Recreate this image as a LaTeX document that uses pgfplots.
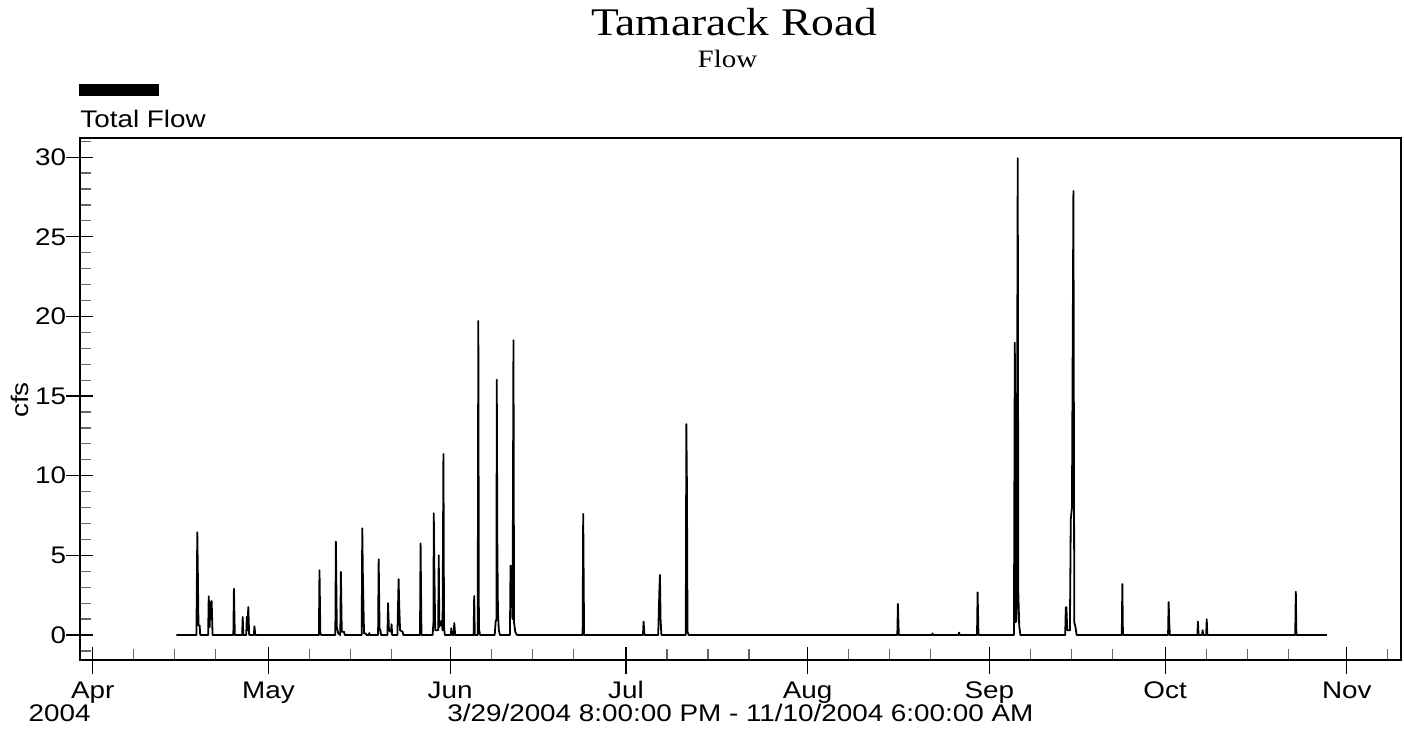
\documentclass[border=0pt]{standalone}
\usepackage{pgfplots}
\pgfplotsset{compat=1.18}
\usepackage{fontspec}
\setmainfont[FakeStretch=1.16]{Liberation Sans}
\newfontfamily\seriffont[FakeStretch=1.16]{Liberation Serif}
\begin{document}
\begin{tikzpicture}
\useasboundingbox (0,0) rectangle (702pt,365pt);
% titles
\node[anchor=base, font=\seriffont\fontsize{19.6}{22}\selectfont, inner sep=0pt] at (367pt,347pt) {Tamarack Road};
\node[anchor=base, font=\seriffont\fontsize{12.5}{14}\selectfont, inner sep=0pt] at (363.75pt,331pt) {Flow};
% legend
\fill[black] (39.65pt,317pt) rectangle (79.65pt,322.85pt);
\node[anchor=base west, font=\fontsize{12}{14}\selectfont, inner sep=0pt] at (40pt,301.2pt) {Total Flow};
% y label
\node[rotate=90, font=\fontsize{12}{14}\selectfont, inner sep=0pt] at (10pt,165pt) {cfs};
% bottom texts
\node[anchor=base east, font=\fontsize{12}{14}\selectfont, inner sep=0pt] at (45.5pt,4.5pt) {2004};
\node[anchor=base, font=\fontsize{12}{14}\selectfont, inner sep=0pt] at (370.2pt,4.5pt) {3/29/2004 8:00:00 PM - 11/10/2004 6:00:00 AM};
\begin{axis}[
  at={(40pt,35pt)}, anchor=south west,
  scale only axis, width=660.5pt, height=261pt,
  xmin=-2.1667, xmax=223.25,
  ymin=-1.57, ymax=31.2,
  axis line style={line width=0.6pt, black},
  xtick={0,30,61,91,122,153,183,214},
  xticklabels={Apr,May,Jun,Jul,Aug,Sep,Oct,Nov},
  minor xtick={7,14,21,37,44,51,68,75,82,98,105,112,129,136,143,160,167,174,190,197,204,221},
  ytick={0,5,10,15,20,25,30},
  minor ytick={-1,1,2,3,4,6,7,8,9,11,12,13,14,16,17,18,19,21,22,23,24,26,27,28,29,31},
  xtick pos=bottom, ytick pos=left,
  tick align=center,
  major tick length=13.5pt,
  minor tick length=5.5pt,
  major tick style={line width=0.6pt, black},
  minor tick style={line width=0.6pt, black!60},
  minor x tick style={yshift=2.75pt},
  minor y tick style={xshift=2.75pt},
  ticklabel style={font=\fontsize{12}{14}\selectfont, inner sep=0pt},
  /pgf/number format/assume math mode=true,
  xticklabel style={anchor=north, text height=8.6pt, text depth=0pt, yshift=-3.75pt},
  yticklabel style={anchor=east},
]
\addplot[black, line width=0.9pt, line join=round] coordinates {
(14.3,0)
(17.7,0)(17.85,6.45)(17.95,3.7)(18.05,0.6)(18.25,0.6)(18.35,0)
(19.7,0)(19.8,2.43)(19.95,0.5)(20.1,2.0)(20.3,2.13)(20.45,0)
(24.0,0)(24.1,2.9)(24.25,0)
(25.5,0)(25.6,1.13)(25.7,0)(26.2,0)(26.3,1.15)(26.4,0.3)(26.55,1.76)(26.7,0)
(27.5,0)(27.6,0.55)(27.75,0)
(38.6,0)(38.7,4.06)(38.85,0.1)(39.0,0)
(41.4,0)(41.5,5.86)(41.65,0.5)(41.9,0.1)(42.25,0)(42.35,3.96)(42.5,0.2)(42.9,0.2)(43.0,0)
(45.9,0)(46.0,6.7)(46.1,3.8)(46.3,0.1)(46.6,0.1)(46.7,0)(47.1,0)(47.2,0.12)(47.3,0)
(48.7,0)(48.8,4.75)(48.95,0.4)(49.1,0.3)(49.2,0)
(50.3,0)(50.4,2.0)(50.55,0.3)(50.9,0.2)(51.0,0.67)(51.1,0)
(52.0,0)(52.2,3.5)(52.3,1.9)(52.45,0.3)(52.9,0.2)(53.0,0)
(55.85,0)(55.95,5.75)(56.1,0)
(58.0,0)(58.15,0.8)(58.2,7.64)(58.3,4.1)(58.45,0.3)
(58.95,0.3)(59.05,5.0)(59.15,0.5)(59.55,0.9)
(59.7,0.3)(59.85,11.36)(59.95,0.4)(60.1,0)
(61.1,0)(61.2,0.42)(61.3,0)(61.6,0)(61.7,0.75)(61.85,0)
(65.0,0)(65.1,2.45)(65.2,0)(65.7,0)(65.8,19.71)(65.9,0.4)(66.1,0)
(68.6,0)(68.75,0.8)(68.9,1.0)(68.95,16.03)(69.05,5.65)(69.15,1.5)(69.3,0.3)(69.5,0)
(71.2,0)(71.3,4.35)(71.5,4.3)(71.65,1.0)(71.8,18.5)(71.9,0.8)(72.1,0.2)(72.4,0)
(83.6,0)(83.7,7.6)(83.85,0)
(93.9,0)(94.0,0.84)(94.15,0)
(96.5,0)(96.7,2.8)(96.8,3.77)(96.9,1.0)(97.05,0)
(101.2,0)(101.3,13.24)(101.4,9.4)(101.5,0.2)(101.7,0)
(137.3,0)(137.4,1.95)(137.55,0)
(143.2,0)(143.3,0.1)(143.4,0)
(147.75,0)(147.85,0.15)(147.95,0)
(150.9,0)(151.0,2.68)(151.15,0)
(157.2,0)(157.35,18.35)(157.5,0.8)(157.65,1.0)(157.85,29.92)(157.95,2.6)(158.1,0.6)(158.3,0)
(165.95,0)(166.05,1.71)(166.15,1.75)(166.3,0.3)(166.75,0.3)(166.9,7.26)(167.1,8.0)(167.35,27.87)(167.5,0.8)(167.7,0.5)(167.9,0)
(175.6,0)(175.7,3.2)(175.8,0)
(183.5,0)(183.6,2.07)(183.7,0.8)(183.8,0)
(188.5,0)(188.6,0.84)(188.7,0)(189.3,0)(189.4,0.3)(189.5,0)(190.0,0)(190.1,0.98)(190.2,0)
(205.2,0)(205.3,2.72)(205.4,0)
(210.6,0)
};
\end{axis}
\end{tikzpicture}
\end{document}
